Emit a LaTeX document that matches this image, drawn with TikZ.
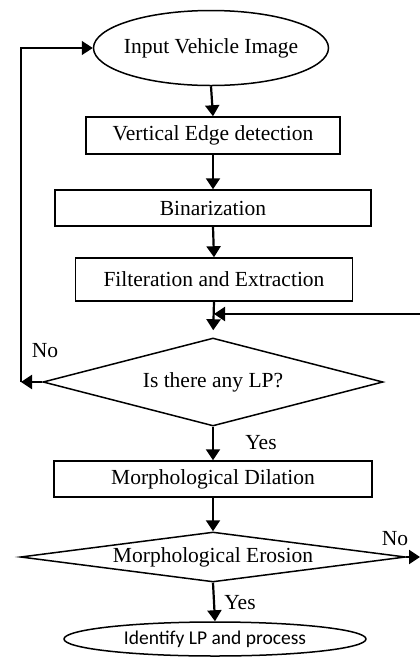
\documentclass[tikz,border=0pt]{standalone}
\usepackage{fontspec}
\setmainfont{Liberation Serif}
\newfontfamily\labelsans{Carlito}
\usetikzlibrary{arrows.meta, shapes.geometric}
\tikzset{
  font=\fontsize{21.5}{24}\selectfont,
  >={Triangle[length=11pt, width=14pt]},
  %
  stepbox/.style={draw=black, line width=1.5pt, rectangle, inner sep=0pt,
                  align=center},
  decision/.style={draw=black, line width=1.5pt, diamond, inner sep=0pt},
  terminal/.style={draw=black, line width=1.5pt, ellipse, inner sep=0pt},
  %
  flow/.style={draw=black, line width=2.2pt, ->},
  lbl/.style={inner sep=0pt},
}

\begin{document}
\begin{tikzpicture}[x=1pt, y=-1pt]

  \useasboundingbox (0,0) rectangle (420,657);

  \node[terminal, minimum width=235pt, minimum height=75pt, inner xsep=-8pt]
    (input) at (211,48) {Input Vehicle Image};
  \node[stepbox, minimum width=254pt, minimum height=37pt]
    (edge) at (213,135.5) {Vertical Edge detection};
  \node[stepbox, minimum width=316pt, minimum height=36pt]
    (binar) at (213,208) {Binarization};
  \node[stepbox, minimum width=277pt, minimum height=43pt]
    (filter) at (214,279.5) {Filteration and Extraction};
  \node[decision, minimum width=340pt, minimum height=88pt, aspect=3.86]
    (anylp) at (213,382) {Is there any LP?};
  \node[stepbox, minimum width=318pt, minimum height=36pt]
    (dilate) at (213,479) {Morphological Dilation};
  \node[decision, minimum width=385pt, minimum height=50pt, aspect=7.7]
    (erode) at (213,557) {Morphological Erosion};
  \node[terminal, minimum width=302pt, minimum height=34pt,
        font=\labelsans\fontsize{19.5}{22}\selectfont]
    (ident) at (215,639) {Identify LP and process};

  % main line
  \draw[flow] (input.south) -- (edge.north);
  \draw[flow] (edge.south) -- (binar.north);
  \draw[flow] (binar.south) -- (filter.north);
  \draw[flow, shorten >=7pt] (filter.south) -- (anylp.north);
  \draw[flow] (anylp.south) -- (dilate.north);
  \draw[flow] (dilate.south) -- (erode.north);
  \draw[flow] (erode.south) -- (ident.north);

  % coming back in from the right
  \coordinate (retry) at (420,314);
  \draw[flow] (retry) -- (retry -| filter.south);

  % no plate found
  \coordinate (nolp) at (21,382);
  \draw[flow] (anylp.west) -- (nolp);
  \draw[flow, line width=1.6pt] (nolp) -- (nolp |- input.west) -- (input.west);

  \coordinate (noexit) at (420,557);
  \draw[flow] (erode.east) -- (noexit);

  % branch labels
  \node[lbl] (nolabel) at (45,351) {No};
  \node[lbl] (yeslabel) at (261,443) {Yes};
  \node[lbl] (noexitlabel) at (395,539) {No};
  \node[lbl] (yesident) at (240,603) {Yes};

\end{tikzpicture}
\end{document}
